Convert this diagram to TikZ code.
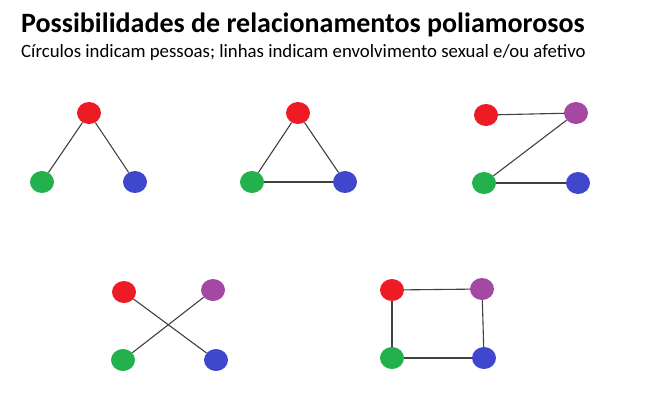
\documentclass[tikz,border=0pt]{standalone}
\usepackage{fontspec}
\setmainfont{Carlito}
\usepackage{tikz}
\usetikzlibrary{positioning,shapes.geometric}

\definecolor{pred}{RGB}{237,28,36}
\definecolor{pgreen}{RGB}{34,177,76}
\definecolor{pblue}{RGB}{63,72,204}
\definecolor{ppurple}{RGB}{163,73,164}

\begin{document}
\begin{tikzpicture}[x=1pt,y=-1pt,
  person/.style={ellipse,minimum width=24pt,minimum height=22pt,inner sep=0pt},
  link/.style={draw=black!75,line width=1.1pt}]

\useasboundingbox (0,0) rectangle (652,408);

\node[anchor=base west,inner sep=0pt,font=\bfseries\fontsize{28}{32}\selectfont] (title) at (21,32) {Possibilidades de relacionamentos poliamorosos};
\node[anchor=base west,inner sep=0pt,font=\fontsize{18.8}{22}\selectfont] (sub) at (21,57) {Círculos indicam pessoas; linhas indicam envolvimento sexual e/ou afetivo};

%first: V
\node[person,fill=pred] (a1) at (89,113){};
\node[person,fill=pgreen] (a2) at (42,182){};
\node[person,fill=pblue] (a3) at (135,182){};
\path[link] (a1) -- (a2);
\path[link] (a1) -- (a3);

%triangle
\node[person,fill=pred] (b1) at (298,113){};
\node[person,fill=pgreen] (b2) at (252,182){};
\node[person,fill=pblue] (b3) at (345,182){};
\path[link] (b1) -- (b2);
\path[link] (b1) -- (b3);
\path[link] (b2) -- (b3);

%chain
\node[person,fill=pred] (c1) at (486,115){};
\node[person,fill=ppurple] (c2) at (576,113){};
\node[person,fill=pgreen] (c3) at (484,183){};
\node[person,fill=pblue] (c4) at (578,183){};
\path[link] (c1) -- (c2);
\path[link] (c2) -- (c3);
\path[link] (c3) -- (c4);

%two couples
\node[person,fill=pred] (d1) at (124,292){};
\node[person,fill=ppurple] (d2) at (213,290){};
\node[person,fill=pgreen] (d3) at (123,360){};
\node[person,fill=pblue] (d4) at (216,360){};
\path[link] (d1) -- (d4);
\path[link] (d2) -- (d3);

%square
\node[person,fill=pred] (e1) at (392,290){};
\node[person,fill=ppurple] (e2) at (482,289){};
\node[person,fill=pgreen] (e3) at (392,358){};
\node[person,fill=pblue] (e4) at (484,358){};
\path[link] (e1) -- (e2);
\path[link] (e2) -- (e4);
\path[link] (e4) -- (e3);
\path[link] (e3) -- (e1);

\end{tikzpicture}
\end{document}
